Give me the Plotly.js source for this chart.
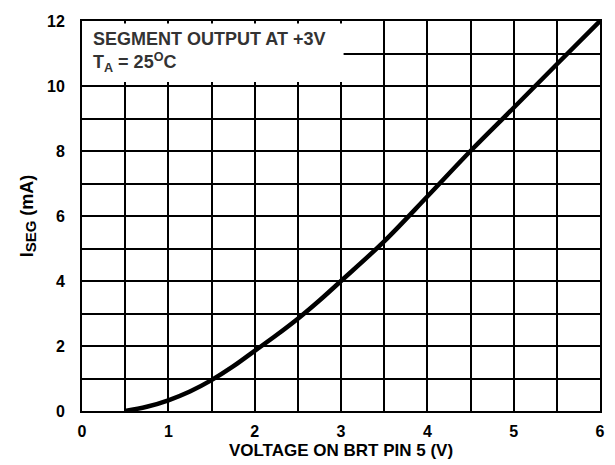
<!DOCTYPE html>
<html>
<head>
<meta charset="utf-8">
<script src="https://cdn.plot.ly/plotly-3.0.1.min.js"></script>
<style>html,body{margin:0;padding:0;background:#fff}#chart{width:615px;height:465px}</style>
</head>
<body>
<div id="chart"></div>
<script>
const voltage = [0.5, 0.75, 1.0, 1.25, 1.5, 1.75, 2.0, 2.25, 2.5, 2.75, 3.0, 3.5, 4.0, 4.5, 5.0, 5.5, 6.0];
const currentMA = [0, 0.13, 0.33, 0.6, 0.95, 1.37, 1.85, 2.33, 2.84, 3.4, 4.0, 5.22, 6.6, 8.0, 9.33, 10.67, 12.0];
const xTickVals = [0, 1, 2, 3, 4, 5, 6];
const yTickVals = [0, 2, 4, 6, 8, 10, 12];
const noteLines = ["SEGMENT OUTPUT AT +3V", "T<sub>A</sub> = 25<sup>O</sup>C"];

const FONT = "Liberation Sans, Arial, sans-serif";

const trace = {
  x: voltage, y: currentMA, type: "scatter", mode: "lines",
  line: {color: "#000", width: 4.5, shape: "spline", smoothing: 1},
  hoverinfo: "skip", cliponaxis: false
};

const axisCommon = {
  showline: true, linecolor: "#000", linewidth: 2, mirror: true,
  showgrid: true, gridcolor: "#000", gridwidth: 2,
  zeroline: false,
  ticks: "outside", tickcolor: "rgba(0,0,0,0)",
  tickfont: {family: FONT, size: 16, color: "#000", weight: "bold"}
};

const layout = {
  width: 615, height: 465,
  margin: {l: 82, r: 15, t: 21, b: 54},
  paper_bgcolor: "#fff", plot_bgcolor: "#fff",
  showlegend: false,
  xaxis: Object.assign({}, axisCommon, {
    range: [0, 6], tickvals: xTickVals, ticklen: 5,
    minor: {dtick: 0.5, showgrid: true, gridcolor: "#000", gridwidth: 2},
    title: {text: "<b>VOLTAGE ON BRT PIN 5 (V)</b>", font: {family: FONT, size: 17, color: "#000"}, standoff: 5}
  }),
  yaxis: Object.assign({}, axisCommon, {
    range: [0, 12], tickvals: yTickVals, ticklen: 12,
    minor: {dtick: 1, showgrid: true, gridcolor: "#000", gridwidth: 2},
    title: {text: "<b>I<sub><span style=\"font-size:15px\">SEG</span></sub> (mA)</b>", font: {family: FONT, size: 18, color: "#000"}, standoff: 9}
  }),
  shapes: [{
    type: "rect", xref: "x", yref: "y", layer: "between",
    x0: 0, x1: 3.03, y0: 10.12, y1: 11.92,
    fillcolor: "#fff", line: {width: 0}
  }],
  annotations: [{
    xref: "x", yref: "y", x: 0.1, y: 11.82, xanchor: "left", yanchor: "top",
    align: "left", showarrow: false,
    text: "<b>" + noteLines.join("<br>") + "</b>",
    font: {family: FONT, size: 18, color: "#333"}
  }]
};

Plotly.newPlot("chart", [trace], layout, {staticPlot: true});
</script>
</body>
</html>
